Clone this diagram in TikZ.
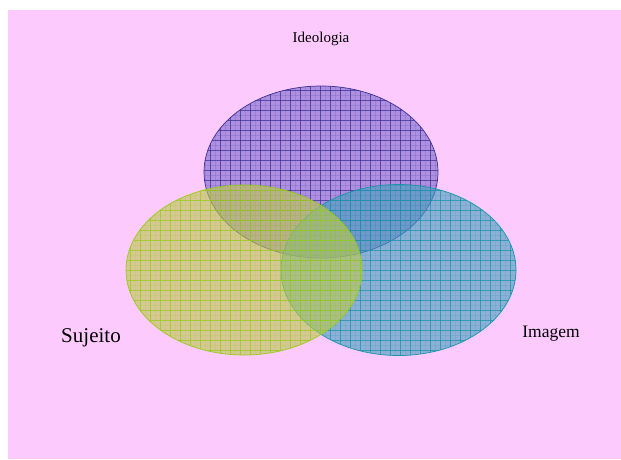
\documentclass[tikz,border=0pt]{standalone}
\usepackage{fontspec}
\setmainfont{Liberation Serif}
\begin{document}
\begin{tikzpicture}[x=1pt,y=-1pt,
  lbl/.style={inner sep=0pt, text=black},
  setfill/.style={fill opacity=0.6}]
\definecolor{bgpink}{RGB}{252,202,252}
\definecolor{pfill}{RGB}{125,105,205}
\definecolor{pline}{RGB}{60,50,150}
\definecolor{yfill}{RGB}{190,200,80}
\definecolor{yline}{RGB}{150,205,20}
\definecolor{cfill}{RGB}{70,160,190}
\definecolor{cline}{RGB}{20,150,170}
\newcommand{\hatchgrid}[3]{% color, width, height (origin shifted by scope)
  \foreach \gx in {0,10,...,#2} {\draw[#1, line width=0.9pt, opacity=0.75] (\gx,0) -- (\gx,#3);}
  \foreach \gy in {0,10,...,#3} {\draw[#1, line width=0.9pt, opacity=0.75] (0,\gy) -- (#2,\gy);}
  \foreach \gx in {5,15,...,#2} {\draw[#1, line width=0.3pt, opacity=0.15] (\gx,0) -- (\gx,#3);}
  \foreach \gy in {5,15,...,#3} {\draw[#1, line width=0.3pt, opacity=0.15] (0,\gy) -- (#2,\gy);}
}
\useasboundingbox (0,0) rectangle (621,459);
\fill[bgpink] (8,10) rectangle (621,459);
% purple
\fill[pfill,setfill] (321,172) ellipse [x radius=117, y radius=86];
\begin{scope}
  \clip (321,172) ellipse [x radius=117, y radius=86];
  \begin{scope}[shift={(200,80)}]\hatchgrid{pline}{240}{180}\end{scope}
\end{scope}
\draw[pline, line width=0.7pt] (321,172) ellipse [x radius=117, y radius=86];
\node[minimum size=0pt, inner sep=0pt] (pur) at (321,172) {};
% cyan
\fill[cfill,setfill] (398.5,270) ellipse [x radius=117.5, y radius=85.5];
\begin{scope}
  \clip (398.5,270) ellipse [x radius=117.5, y radius=85.5];
  \begin{scope}[shift={(280,180)}]\hatchgrid{cline}{240}{180}\end{scope}
\end{scope}
\draw[cline, line width=0.7pt] (398.5,270) ellipse [x radius=117.5, y radius=85.5];
\node[minimum size=0pt, inner sep=0pt] (cya) at (398.5,270) {};
% yellow
\fill[yfill,setfill] (244,270) ellipse [x radius=118, y radius=85];
\begin{scope}
  \clip (244,270) ellipse [x radius=118, y radius=85];
  \begin{scope}[shift={(120,180)}]\hatchgrid{yline}{250}{180}\end{scope}
\end{scope}
\draw[yline, line width=0.7pt] (244,270) ellipse [x radius=118, y radius=85];
\node[minimum size=0pt, inner sep=0pt] (yel) at (244,270) {};
% labels
\node[lbl, font=\fontsize{15}{17}\selectfont] (ideo) at (321,39) {Ideologia};
\node[lbl, font=\fontsize{21}{24}\selectfont] (suj) at (91,338) {Sujeito};
\node[lbl, font=\fontsize{17.5}{20}\selectfont] (img) at (551,334) {Imagem};
\end{tikzpicture}
\end{document}
